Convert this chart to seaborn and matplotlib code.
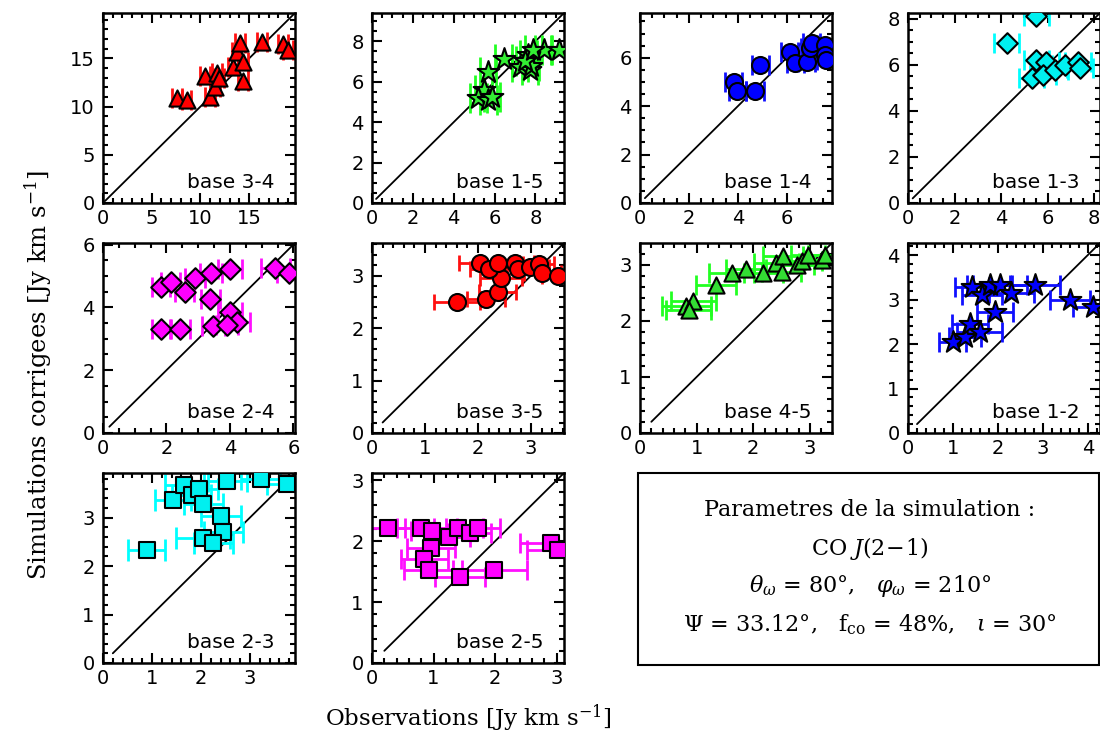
import matplotlib
matplotlib.use("Agg")
import matplotlib.pyplot as plt
import seaborn as sns
import pandas as pd
from matplotlib.ticker import MultipleLocator
from matplotlib.patches import Rectangle

# ---------------- data ----------------
# base 3-4 (red triangles)
b34_obs = [7.56, 8.58, 10.46, 10.97, 11.5, 11.66, 11.9, 13.37, 13.7, 14.05, 14.4, 14.4, 16.3, 18.5, 19.0]
b34_sim = [10.85, 10.67, 13.16, 11.0, 12.05, 13.5, 13.0, 14.1, 15.7, 16.6, 14.6, 12.7, 16.7, 16.5, 15.85]
b34_err = [0.5, 0.5, 0.5, 0.5, 0.5, 0.5, 0.5, 0.5, 0.5, 0.5, 0.5, 0.5, 0.5, 0.5, 0.5]

# base 1-5 (green stars)
b15_obs = [5.67, 6.44, 5.46, 5.21, 5.7, 5.87, 7.25, 7.66, 7.75, 7.8, 8.4, 9.15, 7.47, 7.9]
b15_sim = [6.5, 7.11, 5.6, 5.18, 5.1, 5.26, 6.75, 7.33, 6.58, 6.8, 7.57, 7.57, 7.04, 7.57]
b15_err = [0.4, 0.4, 0.4, 0.4, 0.4, 0.4, 0.4, 0.4, 0.4, 0.4, 0.4, 0.4, 0.4, 0.4]

# base 1-4 (blue circles)
b14_obs = [3.84, 3.98, 4.7, 4.91, 6.13, 6.34, 6.82, 6.95, 7.02, 7.57, 7.57, 7.6]
b14_sim = [5.01, 4.64, 4.64, 5.7, 6.25, 5.8, 5.84, 6.39, 6.6, 6.53, 6.12, 5.9]
b14_err = [0.35, 0.35, 0.35, 0.35, 0.35, 0.35, 0.35, 0.35, 0.35, 0.35, 0.35, 0.35]

# base 1-3 (cyan diamonds)
b13_obs = [5.52, 4.24, 5.52, 5.95, 5.31, 5.81, 6.31, 6.74, 7.31, 7.38]
b13_sim = [8.1, 6.94, 6.22, 6.14, 5.42, 5.57, 5.78, 6.0, 6.14, 5.86]
b13_err = [0.55, 0.55, 0.55, 0.55, 0.55, 0.55, 0.55, 0.55, 0.55, 0.55]

# base 2-4 (magenta diamonds)
b24_obs = [1.82, 2.14, 2.57, 2.9, 3.41, 3.38, 4.0, 5.43, 5.87, 1.83, 2.43, 3.48, 4.0, 4.22, 3.9]
b24_sim = [4.64, 4.82, 4.5, 4.95, 5.09, 4.26, 5.21, 5.26, 5.1, 3.3, 3.3, 3.41, 3.86, 3.54, 3.44]
b24_err = [0.28, 0.3, 0.3, 0.32, 0.35, 0.3, 0.37, 0.45, 0.4, 0.28, 0.3, 0.35, 0.38, 0.4, 0.35]

# base 3-5 (red circles)
b35_obs = [1.6, 2.15, 2.37, 2.43, 2.04, 2.2, 2.38, 2.7, 2.75, 2.98, 3.14, 3.21, 3.51]
b35_sim = [2.5, 2.55, 2.69, 2.95, 3.23, 3.12, 3.23, 3.23, 3.12, 3.17, 3.22, 3.04, 3.0]
b35_err = [0.44, 0.36, 0.35, 0.4, 0.4, 0.35, 0.4, 0.35, 0.4, 0.35, 0.3, 0.35, 0.3]

# base 4-5 (green triangles)
b45_obs = [0.82, 0.94, 0.86, 1.34, 1.62, 1.87, 2.18, 2.41, 2.53, 2.5, 2.77, 2.86, 2.97, 3.21, 3.27]
b45_sim = [2.26, 2.35, 2.2, 2.64, 2.85, 2.92, 2.85, 3.03, 3.15, 2.88, 3.0, 3.06, 3.18, 3.09, 3.18]
b45_err = [0.44, 0.4, 0.4, 0.35, 0.4, 0.35, 0.35, 0.4, 0.35, 0.35, 0.3, 0.35, 0.3, 0.3, 0.3]

# base 1-2 (blue stars)
b12_obs = [1.0, 1.27, 1.38, 1.6, 1.93, 1.42, 1.64, 1.82, 2.04, 2.3, 2.82, 3.6, 4.12]
b12_sim = [2.05, 2.16, 2.46, 2.28, 2.73, 3.29, 3.1, 3.33, 3.33, 3.14, 3.33, 2.99, 2.84]
b12_err = [0.3, 0.35, 0.4, 0.5, 0.4, 0.38, 0.45, 0.5, 0.6, 0.5, 0.55, 0.45, 0.45]

# base 2-3 (cyan squares)
b23_obs = [0.89, 1.43, 1.66, 1.81, 1.95, 2.05, 2.41, 2.46, 2.05, 2.25, 2.54, 3.22, 3.75]
b23_sim = [2.34, 3.36, 3.67, 3.46, 3.6, 3.28, 3.03, 2.71, 2.57, 2.47, 3.76, 3.79, 3.69]
b23_err = [0.37, 0.37, 0.4, 0.4, 0.4, 0.4, 0.4, 0.4, 0.55, 0.4, 0.4, 0.4, 0.4]

# base 2-5 (magenta squares)
b25_obs = [0.26, 0.8, 0.98, 0.96, 0.85, 0.92, 1.25, 1.4, 1.59, 1.73, 1.43, 1.99, 2.91, 3.02]
b25_sim = [2.22, 2.22, 2.16, 1.89, 1.7, 1.52, 2.07, 2.22, 2.13, 2.22, 1.42, 1.53, 1.97, 1.86]
b25_err = [0.27, 0.4, 0.35, 0.39, 0.38, 0.4, 0.35, 0.4, 0.35, 0.35, 0.4, 0.53, 0.5, 0.5]

panel_names = ["base 3-4", "base 1-5", "base 1-4", "base 1-3",
               "base 2-4", "base 3-5", "base 4-5", "base 1-2",
               "base 2-3", "base 2-5"]
panel_obs = [b34_obs, b15_obs, b14_obs, b13_obs, b24_obs, b35_obs, b45_obs, b12_obs, b23_obs, b25_obs]
panel_sim = [b34_sim, b15_sim, b14_sim, b13_sim, b24_sim, b35_sim, b45_sim, b12_sim, b23_sim, b25_sim]
panel_err = [b34_err, b15_err, b14_err, b13_err, b24_err, b35_err, b45_err, b12_err, b23_err, b25_err]
panel_max = [19.7, 9.4, 7.85, 8.25, 6.05, 3.62, 3.39, 4.27, 3.92, 3.12]
major_step = [5, 2, 2, 2, 2, 1, 1, 1, 1, 1]
minor_step = [1, 0.5, 0.5, 0.5, 0.5, 0.2, 0.2, 0.2, 0.2, 0.2]
diag_start = 0.2

# ---------------- styles ----------------
markers = ["^", "*", "o", "D", "D", "o", "^", "*", "s", "s"]
msizes = [135, 270, 150, 110, 110, 150, 135, 270, 125, 125]
faces = ["#ff0000", "#33ee33", "#0000ff", "#00f0f0", "#ff00ff",
         "#ff0000", "#33dd33", "#0000ff", "#00f0f0", "#ff00ff"]
ecolors = ["#ff1010", "#22ff22", "#1010ff", "#00ffff", "#ff10ff",
           "#ff1010", "#22ff22", "#1010ff", "#00ffff", "#ff10ff"]
capsizes = [7, 11, 7, 7, 7, 5.5, 7, 7, 8, 7]

sns.set_style("ticks")
plt.rcParams["font.family"] = ["DejaVu Sans"]
plt.rcParams["mathtext.fontset"] = "dejavuserif"
plt.rcParams["text.color"] = "black"
plt.rcParams["xtick.color"] = "black"
plt.rcParams["ytick.color"] = "black"

W, H = 1100, 737
fig = plt.figure(figsize=(W / 100, H / 100), dpi=100)

col_x = [103, 372, 640, 908]
row_bottom = [203, 433, 663]
aw, ah = 192, 190
positions = [(c, r) for r in range(3) for c in range(4)][:10]

for i, (c, r) in enumerate(positions):
    ax = fig.add_axes([col_x[c] / W, 1 - row_bottom[r] / H, aw / W, ah / H])
    M = panel_max[i]
    ax.plot([diag_start, M + 1], [diag_start, M + 1], color="black", lw=1.3, zorder=1)
    ax.errorbar(panel_obs[i], panel_sim[i], xerr=panel_err[i], fmt="none",
                ecolor=ecolors[i], elinewidth=2.0, capsize=capsizes[i],
                capthick=2.0, zorder=2)
    df = pd.DataFrame({"obs": panel_obs[i], "sim": panel_sim[i]})
    sns.scatterplot(data=df, x="obs", y="sim", marker=markers[i], s=msizes[i],
                    color=faces[i], edgecolor="black", linewidth=1.5,
                    ax=ax, zorder=3, legend=False)
    ax.set_xlim(0, M)
    ax.set_ylim(0, M)
    ax.set_xlabel("")
    ax.set_ylabel("")
    ax.xaxis.set_major_locator(MultipleLocator(major_step[i]))
    ax.yaxis.set_major_locator(MultipleLocator(major_step[i]))
    ax.xaxis.set_minor_locator(MultipleLocator(minor_step[i]))
    ax.yaxis.set_minor_locator(MultipleLocator(minor_step[i]))
    ax.tick_params(which="both", direction="in", top=True, right=True,
                   width=1.5, colors="black", labelsize=14)
    ax.tick_params(which="major", length=7.5)
    ax.tick_params(which="minor", length=3.8)
    ax.tick_params(axis="x", pad=4)
    ax.tick_params(axis="y", pad=6)
    for sp in ax.spines.values():
        sp.set_linewidth(1.8)
        sp.set_color("black")
    ax.text(0.895, 0.11, panel_names[i], transform=ax.transAxes,
            ha="right", va="center", fontsize=14.5, color="black")

# parameters box
fig.patches.append(Rectangle((638 / W, 1 - 665 / H), (W - 1 - 638) / W, (665 - 473) / H,
                             transform=fig.transFigure, fill=False,
                             edgecolor="black", linewidth=1.5))
box_font = dict(family="DejaVu Serif", fontsize=16, ha="center", va="center", color="black")
cx = 870 / W
fig.text(cx, 1 - 510 / H, "Parametres de la simulation :", **box_font)
fig.text(cx, 1 - 548 / H, r"CO $\mathit{J(2\!-\!1)}$", **box_font)
fig.text(cx, 1 - 586 / H, r"$\theta_\omega$ = 80°,   $\varphi_\omega$ = 210°", **box_font)
fig.text(cx, 1 - 625 / H, r"$\Psi$ = 33.12°,   f$_{\rm co}$ = 48%,   $\iota$ = 30°", **box_font)

# global axis labels
fig.text(38 / W, 1 - 375 / H, r"Simulations corrigees [Jy km s$^{-1}$]",
         rotation=90, ha="center", va="center", family="DejaVu Serif",
         fontsize=17.5, color="black")
fig.text(468 / W, 1 - 718 / H, r"Observations [Jy km s$^{-1}$]",
         ha="center", va="center", family="DejaVu Serif", fontsize=16.5, color="black")

fig.savefig("out.png", dpi=100)
